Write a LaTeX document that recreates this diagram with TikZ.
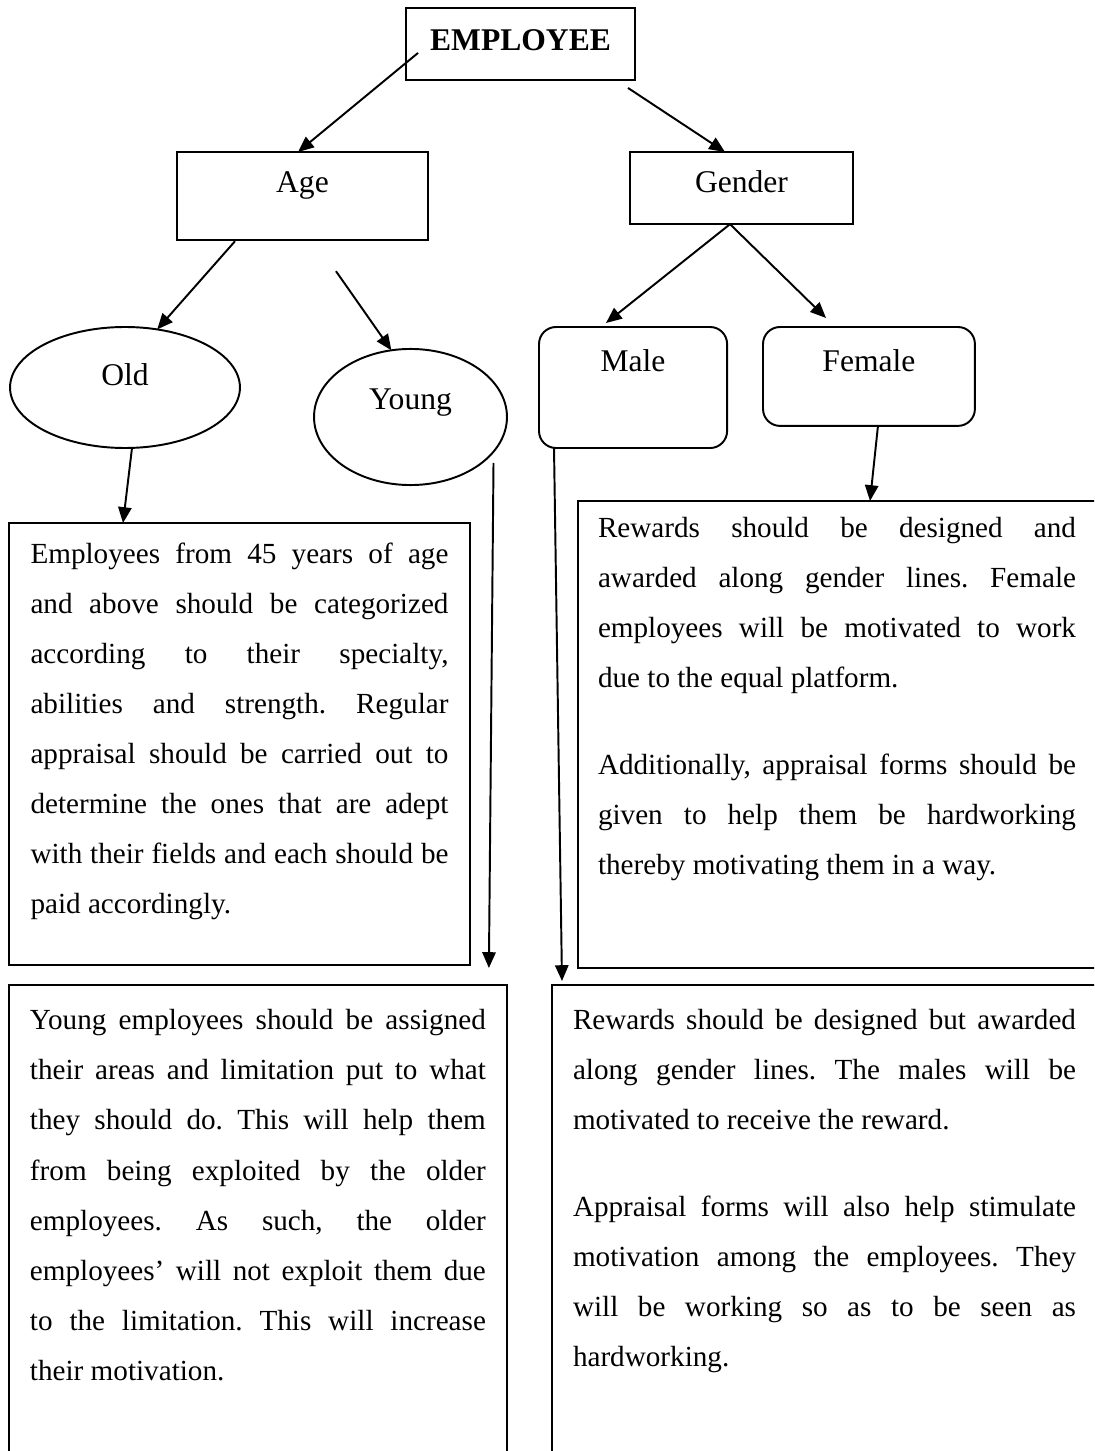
\documentclass[tikz,border=0pt]{standalone}
\usepackage{fontspec}
\setmainfont{Liberation Serif}
\usetikzlibrary{arrows.meta,shapes.geometric,calc}
\tolerance=10000
\hbadness=10000
\frenchspacing

\begin{document}
\begin{tikzpicture}[
  x=0.4115pt, y=-0.4115pt,
  box/.style={draw, rectangle, thick, inner sep=0pt, outer sep=0pt,
              font=\fontsize{13}{15}\selectfont},
  headbox/.style={box, font=\fontsize{13}{15}\selectfont\bfseries},
  roundbox/.style={box, rounded corners=7pt},
  oval/.style={draw, ellipse, thick, inner sep=0pt, outer sep=0pt,
               font=\fontsize{13}{15}\selectfont},
  info/.style={draw, thick, anchor=north west, inner ysep=0pt, outer sep=0pt,
               align=justify, font=\fontsize{12}{20.58}\selectfont},
  >={Triangle[length=6.5pt, width=5.5pt]}
]
\useasboundingbox (0,0) rectangle (1094,1451);
\clip (0,0) rectangle (1094,1451);

% ---- Top ----
\node[headbox, anchor=north, minimum width=94.2pt,
      text height=17.3pt, text depth=12.3pt] (emp) at (520.5,8) {EMPLOYEE};

% ---- Row 1 ----
\node[box, anchor=north, minimum width=103.3pt,
      text height=16.5pt, text depth=19.8pt] (age) at (302.5,152) {Age};
\node[box, anchor=north, minimum width=91.8pt,
      text height=16.5pt, text depth=13.2pt] (gender) at (741.5,152) {Gender};

% ---- Row 2 ----
\node[oval, minimum width=94.6pt, minimum height=49.8pt,
      text height=8pt, text depth=10pt] (old) at (125,387.5) {Old};
\node[oval, minimum width=79.4pt, minimum height=56pt,
      text height=8pt, text depth=13.8pt] (young) at (410.5,417) {Young};
\node[roundbox, anchor=north west, minimum width=77.4pt,
      text height=18.5pt, text depth=31.3pt] (male) at (539,327) {Male};
\node[roundbox, anchor=north west, minimum width=87.2pt,
      text height=18.5pt, text depth=22.2pt] (female) at (763,327) {Female};

% ---- Row 3 ----
\node[info, inner xsep=8.85pt, text width=172pt,
      text height=16.46pt, text depth=165.4pt] (oldtxt) at (9,523) {%
  Employees from 45 years of age\linebreak
  and above should be categorized\linebreak
  according to their specialty,\linebreak
  abilities and strength. Regular\linebreak
  appraisal should be carried out to\linebreak
  determine the ones that are adept\linebreak
  with their fields and each should be\linebreak
  paid accordingly.};
\node[info, inner xsep=8.23pt, text width=196.7pt,
      text height=15.2pt, text depth=176.9pt] (femtxt) at (578,501) {%
  Rewards should be designed and\linebreak
  awarded along gender lines. Female\linebreak
  employees will be motivated to work\linebreak
  due to the equal platform.\par\vspace{15.2pt}
  Additionally, appraisal forms should be\linebreak
  given to help them be hardworking\linebreak
  thereby motivating them in a way.};

% ---- Row 4 ----
\node[info, inner xsep=8.64pt, text width=187.6pt,
      text height=18.5pt, text depth=210pt] (youngtxt) at (9,985) {%
  Young employees should be assigned\linebreak
  their areas and limitation put to what\linebreak
  they should do. This will help them\linebreak
  from being exploited by the older\linebreak
  employees. As such, the older\linebreak
  employees’ will not exploit them due\linebreak
  to the limitation. This will increase\linebreak
  their motivation.};
\node[info, inner xsep=8.64pt, text width=207pt,
      text height=18.5pt, text depth=210pt] (maletxt) at (552,985) {%
  Rewards should be designed but awarded\linebreak
  along gender lines. The males will be\linebreak
  motivated to receive the reward.\par\vspace{15.2pt}
  Appraisal forms will also help stimulate\linebreak
  motivation among the employees. They\linebreak
  will be working so as to be seen as\linebreak
  hardworking.};

% ---- Edges ----
\draw[->, thick] ($(emp.south west)+(12,-27)$) -- ($(age.north)+(-4.5,0)$);
\draw[->, thick] ($(emp.south east)+(-7,8)$) -- ($(gender.north)+(-16.5,0)$);

\draw[->, thick] ($(age.south)+(-67.5,1)$) -- (old.61);
\draw[->, thick] ($(age.south)+(33.5,31)$) -- (young.106);
\draw[->, thick] ($(gender.south)+(-11.5,0)$) -- ($(male.north west)+(67,-4)$);
\draw[->, thick] ($(gender.south)+(-11.5,0)$) -- ($(female.north west)+(63,-9)$);

\draw[->, thick] ($(old.south)+(7,0)$) -- ($(oldtxt.north west)+(114,0)$);
\draw[->, thick] ($(female.south)+(9,0)$) -- ($(femtxt.north west)+(292,0)$);
\draw[->, thick] ($(young.center)+(83,46)$) -- ($(youngtxt.north east)+(-18,-17)$);
\draw[->, thick] ($(male.south west)+(15,0)$) -- ($(maletxt.north west)+(10,-4)$);

\end{tikzpicture}
\end{document}
